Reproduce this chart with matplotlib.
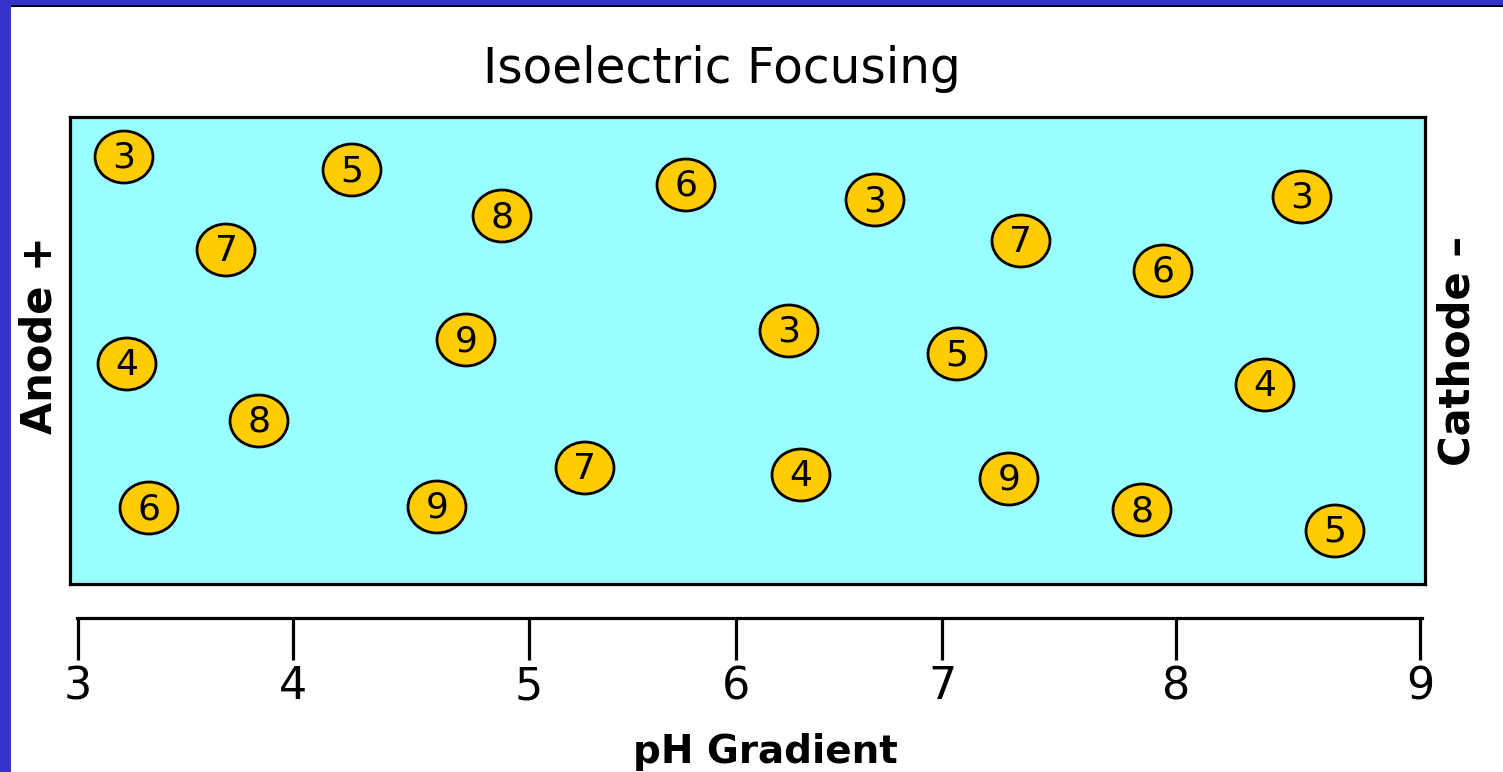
from matplotlib import pyplot as plt
from matplotlib.patches import Ellipse, Rectangle

# proteins in the gel: label and position (image pixels, y down)
protein_label = [3, 5, 6, 3, 3, 8, 7, 7, 6, 3, 9, 4, 5, 4, 8, 7, 4, 9, 6, 9, 8, 5]
protein_x = [124, 352, 686, 875, 1302, 502, 226, 1021, 1163, 789, 466, 127,
             957, 1265, 259, 585, 801, 1009, 149, 437, 1142, 1335]
protein_y = [157, 170, 185, 200, 197, 216, 250, 241, 271, 331, 340, 364,
             354, 385, 421, 468, 475, 479, 508, 507, 510, 531]

ph_labels = ['3', '4', '5', '6', '7', '8', '9']
ph_tick_px = [78, 293, 529, 736, 942, 1176, 1420]

W, H = 1503, 772
fig = plt.figure(figsize=(W / 100, H / 100), dpi=100)
fig.patch.set_facecolor('white')

# blue frame at top and left
fig.patches.append(Rectangle((0, 1 - 5 / H), 1, 5 / H, transform=fig.transFigure,
                             facecolor='#3333cc', edgecolor='none'))
fig.patches.append(Rectangle((0, 1 - 7 / H), 1, 2 / H, transform=fig.transFigure,
                             facecolor='black', edgecolor='none'))
fig.patches.append(Rectangle((0, 0), 11 / W, 1, transform=fig.transFigure,
                             facecolor='#3333cc', edgecolor='none'))

# gel panel, data coords = image pixels
left, right, top, bottom = 70, 1425, 117, 584
ax = fig.add_axes([left / W, 1 - bottom / H, (right - left) / W, (bottom - top) / H])
ax.set_facecolor('#99ffff')
ax.set_xlim(left, right)
ax.set_ylim(bottom, top)
ax.set_xticks([])
ax.set_yticks([])
for s in ax.spines.values():
    s.set_linewidth(2.3)
    s.set_color('black')

for lab, x, y in zip(protein_label, protein_x, protein_y):
    ax.add_patch(Ellipse((x, y), 58, 52, facecolor='#ffcc00', edgecolor='black', lw=2.0))
    ax.text(x, y + 1, str(lab), ha='center', va='center', fontsize=26, color='black')

# pH scale below the panel
axis_y = 618
sx = fig.add_axes([0, 1 - axis_y / H, 1, 0.001])
sx.set_facecolor('none')
sx.set_xlim(0, W)
sx.set_yticks([])
for k in ['top', 'left', 'right']:
    sx.spines[k].set_visible(False)
sx.spines['bottom'].set_linewidth(2.3)
sx.spines['bottom'].set_bounds(77, 1422)
sx.set_xticks(ph_tick_px, ph_labels)
sx.tick_params(axis='x', direction='out', length=30, width=2.3, pad=4, labelsize=32)

fig.text(765 / W, 1 - 752 / H, 'pH Gradient', ha='center', va='center',
         fontsize=28, fontweight='bold')
fig.text(722 / W, 1 - 83 / H, 'Isoelectric Focusing', ha='center', va='baseline', fontsize=35)
fig.text(40 / W, 1 - 335 / H, 'Anode +', ha='center', va='center', rotation=90,
         fontsize=30, fontweight='bold')
fig.text(1457 / W, 1 - 351 / H, 'Cathode \u2013', ha='center', va='center', rotation=90,
         fontsize=30, fontweight='bold')

fig.savefig('out.png', dpi=100)
